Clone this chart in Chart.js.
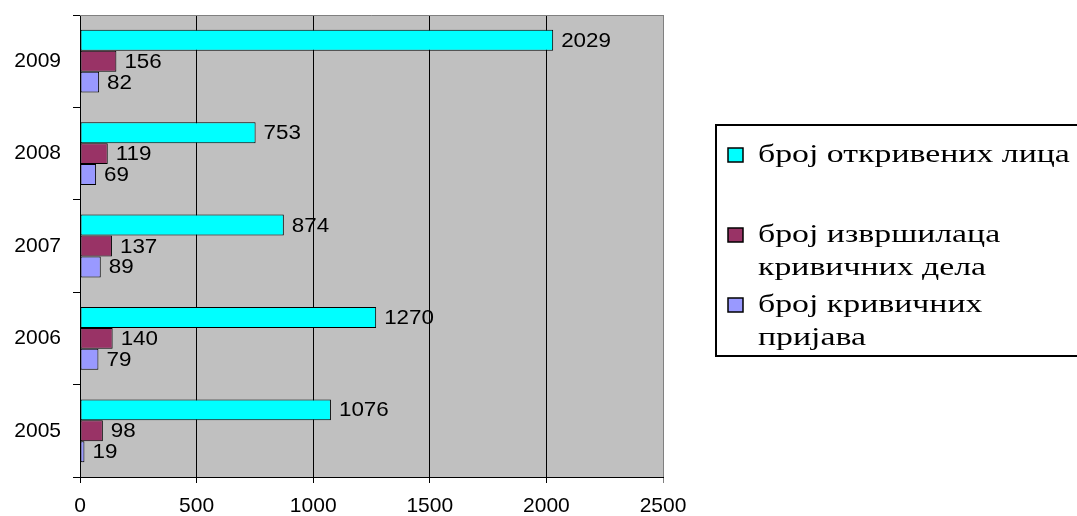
<!DOCTYPE html>
<html>
<head>
<meta charset="utf-8">
<script src="https://cdn.jsdelivr.net/npm/chart.js@4/dist/chart.umd.min.js"></script>
<style>
  html, body { margin: 0; padding: 0; background: #fff; }
  #wrap { width: 1077px; height: 516px; position: relative; }
</style>
</head>
<body>
<div id="wrap"><canvas id="chart"></canvas></div>
<script>
// data
const years = ['2009', '2008', '2007', '2006', '2005'];
const seriesNames = ['број откривених лица', 'број извршилаца кривичних дела', 'број кривичних пријава'];
const detectedPersons = [2029, 753, 874, 1270, 1076];
const perpetrators = [156, 119, 137, 140, 98];
const criminalReports = [82, 69, 89, 79, 19];
const xTicks = [0, 500, 1000, 1500, 2000, 2500];

// legend text wrapped like the original
const legendLines = [
    ['број откривених лица'],
    ['број извршилаца', 'кривичних дела'],
    ['број кривичних', 'пријава']
];
const seriesColors = ['#00ffff', '#993366', '#9999ff'];

const SANS = '"Liberation Sans", Arial, sans-serif';
const SERIF = '"Liberation Serif", "Times New Roman", serif';

// the original text is drawn a bit wider than the fonts we have
function stretchedText(ctx, text, x, y, sx) {
    ctx.save();
    ctx.translate(x, y);
    ctx.scale(sx, 1);
    ctx.fillText(text, 0, 0);
    ctx.restore();
}

// gray plot background + gray top/right frame
const plotFrame = {
    id: 'plotFrame',
    beforeDraw(chart) {
        const { ctx, chartArea: a } = chart;
        ctx.save();
        ctx.fillStyle = '#c0c0c0';
        ctx.fillRect(a.left, a.top, a.right - a.left, a.bottom - a.top);
        ctx.restore();
    },
    afterDraw(chart) {
        const { ctx, chartArea: a } = chart;
        ctx.save();
        ctx.strokeStyle = '#808080';
        ctx.lineWidth = 1;
        ctx.beginPath();
        ctx.moveTo(a.left, a.top + 0.5);
        ctx.lineTo(a.right + 0.5, a.top + 0.5);
        ctx.lineTo(a.right + 0.5, a.bottom);
        ctx.stroke();
        ctx.restore();
    }
};

// value labels at the end of each bar
const valueLabels = {
    id: 'valueLabels',
    afterDatasetsDraw(chart) {
        const ctx = chart.ctx;
        ctx.save();
        ctx.font = '20px ' + SANS;
        ctx.fillStyle = '#000';
        ctx.textBaseline = 'middle';
        chart.data.datasets.forEach((ds, i) => {
            chart.getDatasetMeta(i).data.forEach((bar, j) => {
                stretchedText(ctx, String(ds.data[j]), bar.x + 8, bar.y + 1, 1.12);
            });
        });
        ctx.restore();
    }
};

// boxed legend on the right
const boxLegend = {
    id: 'boxLegend',
    afterDraw(chart) {
        const ctx = chart.ctx;
        const itemY = [155, 235, 305];
        const lineH = 33;
        ctx.save();
        ctx.strokeStyle = '#000';
        ctx.lineWidth = 2;
        ctx.strokeRect(716, 125, 400, 231);
        ctx.font = '26px ' + SERIF;
        ctx.textBaseline = 'middle';
        chart.data.datasets.forEach((ds, i) => {
            const y = itemY[i];
            ctx.fillStyle = ds.backgroundColor;
            ctx.fillRect(728, y - 7, 15, 14);
            ctx.lineWidth = 1.5;
            ctx.strokeRect(728, y - 7, 15, 14);
            ctx.fillStyle = '#000';
            legendLines[i].forEach((line, k) => {
                stretchedText(ctx, line, 758, y + k * lineH, 1.3);
            });
        });
        ctx.restore();
    }
};

const datasets = [detectedPersons, perpetrators, criminalReports].map((values, i) => ({
    label: seriesNames[i],
    data: values,
    backgroundColor: seriesColors[i],
    borderColor: '#000',
    borderWidth: 1,
    borderSkipped: false,
    categoryPercentage: 0.68,
    barPercentage: 1.0
}));

new Chart(document.getElementById('chart').getContext('2d'), {
    type: 'bar',
    data: { labels: years, datasets: datasets },
    options: {
        indexAxis: 'y',
        responsive: true,
        maintainAspectRatio: false,
        animation: false,
        devicePixelRatio: 1,
        layout: { padding: { top: 15, right: 414, left: 0, bottom: 0 } },
        plugins: {
            legend: { display: false },
            tooltip: { enabled: false }
        },
        scales: {
            x: {
                type: 'linear',
                min: xTicks[0],
                max: xTicks[xTicks.length - 1],
                afterBuildTicks: scale => { scale.ticks = xTicks.map(v => ({ value: v })); },
                afterFit: scale => { scale.height = 39; },
                ticks: {
                    color: '#000',
                    font: { family: SANS, size: 21 },
                    padding: 11,
                    maxRotation: 0,
                    callback: v => String(v)
                },
                grid: {
                    color: c => (c.tick && c.tick.value === 2500 ? '#808080' : '#000'),
                    lineWidth: 1,
                    tickLength: 6
                },
                border: { color: '#000', width: 1 }
            },
            y: {
                type: 'category',
                afterFit: scale => {
                    scale.width = 80;
                    scale.paddingTop = 0;
                    scale.paddingBottom = 0;
                },
                ticks: { color: '#000', font: { family: SANS, size: 21 }, padding: 12 },
                grid: { offset: true, drawOnChartArea: false, drawTicks: true, tickLength: 7, color: '#000' },
                border: { color: '#000', width: 1 }
            }
        }
    },
    plugins: [plotFrame, valueLabels, boxLegend]
});
</script>
</body>
</html>
